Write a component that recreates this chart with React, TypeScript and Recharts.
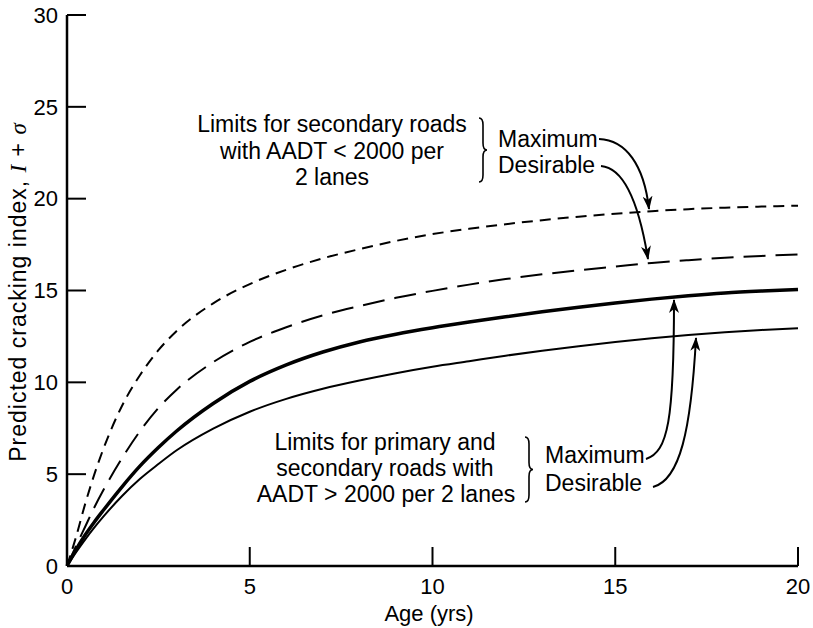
import { LineChart, Line, XAxis, YAxis } from "recharts";

// Age (yrs) sample points
const ages = [0, 0.25, 0.5, 0.75, 1, 1.5, 2, 2.5, 3, 4, 5, 6, 7, 8, 9, 10, 11, 12, 13, 14, 15, 16, 17, 18, 19, 20];

// secondary roads, AADT < 2000
const secondaryMax = [0, 1.6, 3.4, 5.0, 6.4, 8.7, 10.4, 11.75, 12.8, 14.3, 15.35, 16.13, 16.75, 17.25, 17.7, 18.07, 18.36, 18.61, 18.83, 19.02, 19.18, 19.32, 19.43, 19.51, 19.57, 19.62];
const secondaryDes = [0, 1.1, 2.15, 3.2, 4.15, 5.85, 7.35, 8.6, 9.6, 11.1, 12.2, 13.0, 13.65, 14.15, 14.6, 14.98, 15.32, 15.62, 15.88, 16.1, 16.3, 16.5, 16.65, 16.78, 16.88, 16.96];

// primary and secondary roads, AADT > 2000
const primaryMax = [0, 0.9, 1.7, 2.4, 3.05, 4.3, 5.45, 6.45, 7.35, 8.85, 10.05, 10.95, 11.65, 12.2, 12.62, 12.97, 13.28, 13.57, 13.84, 14.09, 14.32, 14.53, 14.71, 14.86, 14.97, 15.06];
const primaryDes = [0, 0.75, 1.45, 2.1, 2.7, 3.8, 4.75, 5.55, 6.3, 7.48, 8.4, 9.1, 9.65, 10.1, 10.5, 10.85, 11.15, 11.45, 11.72, 11.97, 12.2, 12.4, 12.58, 12.73, 12.85, 12.94];

const xTicks = [0, 5, 10, 15, 20];
const yTicks = [0, 5, 10, 15, 20, 25, 30];

const data = ages.map((age, i) => ({
  age,
  secMax: secondaryMax[i],
  secDes: secondaryDes[i],
  priMax: primaryMax[i],
  priDes: primaryDes[i],
}));

const FONT = "'Liberation Sans', Arial, sans-serif";
const tickStyle = { fill: "#000", fontSize: 22, fontFamily: FONT };

// "}" shaped brace
function brace(x: number, y1: number, y2: number, w = 4, q = 7) {
  const mid = (y1 + y2) / 2;
  return `M${x},${y1} Q${x + w},${y1} ${x + w},${y1 + q} L${x + w},${mid - q} Q${x + w},${mid} ${x + 2 * w},${mid} Q${x + w},${mid} ${x + w},${mid + q} L${x + w},${y2 - q} Q${x + w},${y2} ${x},${y2}`;
}

function Annotations() {
  const txt = { fontFamily: FONT, fontSize: 23, fill: "#000" };
  return (
    <svg width={813} height={628} style={{ position: "absolute", left: 0, top: 0, pointerEvents: "none" }}>
      <defs>
        <marker id="ah" viewBox="0 0 14 10" refX="13" refY="5" markerWidth="14" markerHeight="10" markerUnits="userSpaceOnUse" orient="auto">
          <path d="M0,0 L14,5 L0,10 L4,5 z" fill="#000" />
        </marker>
      </defs>

      {/* y axis title */}
      <text transform="translate(26,292) rotate(-90)" textAnchor="middle" fontFamily={FONT} fontSize={23} letterSpacing={1} fill="#000">
        Predicted cracking index,{" "}
        <tspan fontFamily="'Liberation Serif', serif" fontStyle="italic">I</tspan> +{" "}
        <tspan fontFamily="'Liberation Serif', serif" fontStyle="italic">σ</tspan>
      </text>
      {/* x axis title */}
      <text x={429} y={621} textAnchor="middle" fontFamily={FONT} fontSize={22} fill="#000">Age (yrs)</text>

      {/* upper note */}
      <text {...txt} textAnchor="middle">
        <tspan x={332} y={132}>Limits for secondary roads</tspan>
        <tspan x={332} y={158.5}>with AADT &lt; 2000 per</tspan>
        <tspan x={332} y={185}>2 lanes</tspan>
      </text>
      <path d={brace(479, 118, 182)} fill="none" stroke="#000" strokeWidth={1.6} />
      <text {...txt} x={498} y={147}>Maximum</text>
      <text {...txt} x={498} y={173}>Desirable</text>
      <path d="M599,139 C626,140 644,165 649,209" fill="none" stroke="#000" strokeWidth={2} markerEnd="url(#ah)" />
      <path d="M601,166 C626,168 640,210 648,259" fill="none" stroke="#000" strokeWidth={2} markerEnd="url(#ah)" />

      {/* lower note */}
      <text {...txt} textAnchor="middle">
        <tspan x={385} y={450}>Limits for primary and</tspan>
        <tspan x={385} y={476}>secondary roads with</tspan>
        <tspan x={386} y={502}>AADT &gt; 2000 per 2 lanes</tspan>
      </text>
      <path d={brace(525, 437, 502)} fill="none" stroke="#000" strokeWidth={1.6} />
      <text {...txt} x={545} y={463}>Maximum</text>
      <text {...txt} x={545} y={491}>Desirable</text>
      <path d="M646,459 C668,452 674,420 674,300" fill="none" stroke="#000" strokeWidth={2} markerEnd="url(#ah)" />
      <path d="M653,487 C680,480 691,430 696,338" fill="none" stroke="#000" strokeWidth={2} markerEnd="url(#ah)" />
    </svg>
  );
}

export default function App() {
  return (
    <div style={{ position: "absolute", left: 0, top: 0, width: 813, height: 628, background: "#fff" }}>
      <LineChart width={813} height={628} data={data} margin={{ top: 15, right: 15, left: 7, bottom: 22 }}>
        <XAxis
          dataKey="age"
          type="number"
          domain={[0, 20]}
          ticks={xTicks}
          height={40}
          tickSize={-19}
          tickMargin={31}
          tick={tickStyle}
          axisLine={{ stroke: "#000", strokeWidth: 2.5 }}
          tickLine={{ stroke: "#000", strokeWidth: 2 }}
        />
        <XAxis
          xAxisId="top"
          orientation="top"
          type="number"
          domain={[0, 20]}
          height={0}
          tick={false}
          tickLine={false}
          axisLine={{ stroke: "#000", strokeWidth: 2.5 }}
        />
        <YAxis
          type="number"
          domain={[0, 30]}
          ticks={yTicks}
          width={60}
          tickSize={-19}
          tickMargin={28}
          tick={tickStyle}
          axisLine={{ stroke: "#000", strokeWidth: 2.5 }}
          tickLine={{ stroke: "#000", strokeWidth: 2 }}
        />
        <YAxis
          yAxisId="right"
          orientation="right"
          type="number"
          domain={[0, 30]}
          ticks={yTicks}
          width={0}
          tickSize={-19}
          tickFormatter={() => ""}
          axisLine={{ stroke: "#000", strokeWidth: 2.5 }}
          tickLine={{ stroke: "#000", strokeWidth: 2 }}
        />
        <Line type="monotone" dataKey="secMax" stroke="#000" strokeWidth={2} strokeDasharray="11 7" dot={false} isAnimationActive={false} />
        <Line type="monotone" dataKey="secDes" stroke="#000" strokeWidth={2} strokeDasharray="22 10" dot={false} isAnimationActive={false} />
        <Line type="monotone" dataKey="priMax" stroke="#000" strokeWidth={3.5} dot={false} isAnimationActive={false} />
        <Line type="monotone" dataKey="priDes" stroke="#000" strokeWidth={2} dot={false} isAnimationActive={false} />
      </LineChart>
      <Annotations />
    </div>
  );
}
